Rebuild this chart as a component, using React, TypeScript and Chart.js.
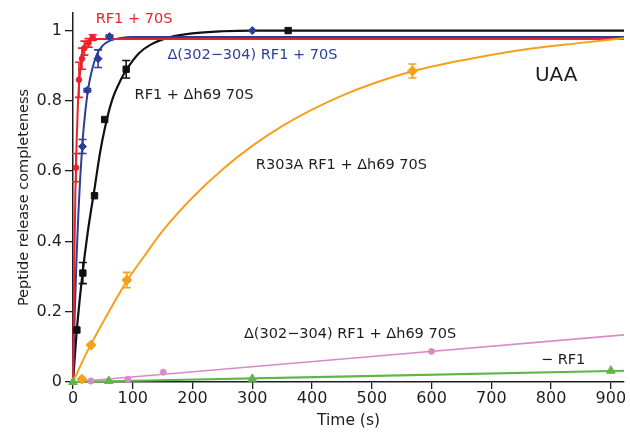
import React, { useEffect, useRef } from "react";
import { Chart, registerables } from "chart.js";

Chart.register(...registerables);

// ---- axes ----
const xTickValues = [0, 100, 200, 300, 400, 500, 600, 700, 800, 900];
const yTickValues = [0, 0.2, 0.4, 0.6, 0.8, 1];
const xMax = 922;
const yMax = 1.05;

// ---- measured points ----
const redT = [5, 10, 15, 19, 26, 33];
const redY = [0.61, 0.86, 0.92, 0.95, 0.965, 0.98];
const redErr = [0.04, 0.05, 0.03, 0.02, 0.012, 0.008];

const blueT = [16, 24, 42, 61, 300];
const blueY = [0.67, 0.83, 0.92, 0.983, 1.0];
const blueErr = [0.02, 0.005, 0.025, 0.004, 0];

const blackT = [6.5, 16.5, 36, 53, 89, 360];
const blackY = [0.148, 0.31, 0.53, 0.747, 0.89, 1.0];
const blackErr = [0, 0.03, 0, 0, 0.025, 0];

const orangeT = [15, 30, 90, 568];
const orangeY = [0.008, 0.105, 0.29, 0.885];
const orangeErr = [0, 0, 0.022, 0.02];

const pinkT = [30, 92, 151, 600];
const pinkY = [0.003, 0.008, 0.028, 0.087];

const greenT = [0, 60, 300, 900];
const greenY = [0, 0.003, 0.009, 0.032];

// ---- fitted curves ----
const redFitT = [0, 2, 4, 6, 8, 10, 13, 16, 20, 25, 30, 40, 60, 922];
const redFitY = [0, 0.32, 0.54, 0.68, 0.78, 0.845, 0.9, 0.935, 0.957, 0.968, 0.973, 0.976, 0.976, 0.976];

const blueFitT = [0, 3, 6, 9, 12, 16, 20, 25, 30, 40, 50, 60, 80, 100, 922];
const blueFitY = [0, 0.2, 0.355, 0.48, 0.58, 0.685, 0.76, 0.83, 0.875, 0.932, 0.958, 0.97, 0.979, 0.982, 0.982];

const blackFitT = [0, 6.5, 16, 25, 36, 45, 53, 65, 80, 90, 110, 130, 160, 200, 250, 300, 922];
const blackFitY = [0, 0.15, 0.31, 0.43, 0.55, 0.65, 0.72, 0.8, 0.86, 0.89, 0.935, 0.96, 0.98, 0.992, 0.998, 1.0, 1.0];

const orangeFitT = [0, 15, 30, 60, 90, 120, 150, 200, 250, 300, 350, 400, 450, 500, 570, 650, 750, 850, 922];
const orangeFitY = [0, 0.056, 0.107, 0.2, 0.287, 0.36, 0.43, 0.525, 0.605, 0.672, 0.728, 0.775, 0.815, 0.848, 0.885, 0.915, 0.945, 0.965, 0.978];

const pinkFitT = [0, 922];
const pinkFitY = [0, 0.134];

const greenFitT = [0, 922];
const greenFitY = [0, 0.032];

// ---- colours ----
const RED = "#e8232a";
const BLUE = "#2c3f97";
const BLACK = "#111111";
const ORANGE = "#f5a01c";
const PINK = "#d68bc9";
const GREEN = "#5db646";
const TEXT = "#1e1e1e";
const FONT = "DejaVu Sans";

// ---- annotations ----
const labelTexts = [
  "RF1 + 70S",
  "\u0394(302\u2212304) RF1 + 70S",
  "RF1 + \u0394h69 70S",
  "R303A RF1 + \u0394h69 70S",
  "UAA",
  "\u0394(302\u2212304) RF1 + \u0394h69 70S",
  "\u2212 RF1",
];
const labelT = [38, 158, 103, 306, 773, 286, 783];
const labelV = [1.033, 0.93, 0.816, 0.616, 0.87, 0.137, 0.063];
const labelColors = [RED, BLUE, TEXT, TEXT, TEXT, TEXT, TEXT];
const labelSizes = [14.5, 14.5, 14.5, 14.5, 20, 14.5, 14.5];

const pts = (t: number[], y: number[]) => t.map((v, i) => ({ x: v, y: y[i] }));

const errorSeries = [
  { t: redT, y: redY, e: redErr, color: RED },
  { t: blueT, y: blueY, e: blueErr, color: BLUE },
  { t: blackT, y: blackY, e: blackErr, color: BLACK },
  { t: orangeT, y: orangeY, e: orangeErr, color: ORANGE },
];

const errorBarPlugin = {
  id: "errorBars",
  afterDatasetsDraw(chart: any) {
    const { ctx, scales } = chart;
    const xs = scales.x;
    const ys = scales.y;
    ctx.save();
    errorSeries.forEach((s) => {
      ctx.strokeStyle = s.color;
      ctx.lineWidth = 1.6;
      s.t.forEach((t, i) => {
        const err = s.e[i];
        if (!err) return;
        const px = xs.getPixelForValue(t);
        const top = ys.getPixelForValue(s.y[i] + err);
        const bot = ys.getPixelForValue(s.y[i] - err);
        const cap = 4;
        ctx.beginPath();
        ctx.moveTo(px, top);
        ctx.lineTo(px, bot);
        ctx.moveTo(px - cap, top);
        ctx.lineTo(px + cap, top);
        ctx.moveTo(px - cap, bot);
        ctx.lineTo(px + cap, bot);
        ctx.stroke();
      });
    });
    ctx.restore();
  },
};

const labelPlugin = {
  id: "labels",
  afterDraw(chart: any) {
    const { ctx, scales } = chart;
    ctx.save();
    ctx.textAlign = "left";
    ctx.textBaseline = "middle";
    labelTexts.forEach((txt, i) => {
      ctx.font = `${labelSizes[i]}px "${FONT}"`;
      ctx.fillStyle = labelColors[i];
      ctx.fillText(txt, scales.x.getPixelForValue(labelT[i]), scales.y.getPixelForValue(labelV[i]));
    });
    ctx.restore();
  },
};

const curve = (t: number[], y: number[], color: string, width = 2) => ({
  type: "line" as const,
  data: pts(t, y),
  borderColor: color,
  backgroundColor: color,
  borderWidth: width,
  pointRadius: 0,
  fill: false,
  cubicInterpolationMode: "monotone" as const,
  order: 2,
  clip: false as any,
});

const marks = (t: number[], y: number[], color: string, style: string, radius: number) => ({
  type: "scatter" as const,
  data: pts(t, y),
  borderColor: color,
  backgroundColor: color,
  pointStyle: style as any,
  pointRadius: radius,
  borderWidth: style === "star" ? 2 : 1,
  showLine: false,
  order: 1,
  clip: false as any,
});

export default function App() {
  const ref = useRef<HTMLCanvasElement | null>(null);

  useEffect(() => {
    document.body.style.margin = "0";
    if (!ref.current) return;
    const chart = new Chart(ref.current, {
      type: "scatter",
      data: {
        datasets: [
          curve(greenFitT, greenFitY, GREEN, 2.2),
          curve(pinkFitT, pinkFitY, PINK, 1.6),
          curve(orangeFitT, orangeFitY, ORANGE, 2),
          curve(redFitT, redFitY, RED, 2),
          curve(blueFitT, blueFitY, BLUE, 2),
          curve(blackFitT, blackFitY, BLACK, 2.2),
          marks(greenT, greenY, GREEN, "triangle", 5),
          marks(pinkT, pinkY, PINK, "star", 3.5),
          marks(orangeT, orangeY, ORANGE, "rectRot", 5),
          marks(redT, redY, RED, "circle", 2.8),
          marks(blueT, blueY, BLUE, "rectRot", 4),
          marks(blackT, blackY, BLACK, "rect", 4.5),
        ] as any,
      },
      options: {
        animation: false,
        responsive: false,
        maintainAspectRatio: false,
        layout: { padding: { top: 13, right: 3, left: 0, bottom: 0 } },
        plugins: {
          legend: { display: false },
          tooltip: { enabled: false },
        },
        scales: {
          x: {
            type: "linear",
            min: 0,
            max: xMax,
            border: { color: TEXT, width: 1.5 },
            grid: { drawOnChartArea: false, drawTicks: true, tickLength: 7, color: TEXT, lineWidth: 1.3 },
            ticks: { color: TEXT, font: { family: FONT, size: 16 }, padding: 0, maxRotation: 0, autoSkip: false },
            title: { display: true, text: "Time (s)", color: TEXT, font: { family: FONT, size: 15.5 }, padding: { top: 0, bottom: 4 } },
            afterBuildTicks: (s: any) => {
              s.ticks = xTickValues.map((v) => ({ value: v }));
            },
            afterFit: (s: any) => {
              s.height = 52;
            },
          },
          y: {
            type: "linear",
            min: 0,
            max: yMax,
            border: { color: TEXT, width: 1.5 },
            grid: { drawOnChartArea: false, drawTicks: true, tickLength: 8, color: TEXT, lineWidth: 1.3 },
            ticks: {
              color: TEXT,
              font: { family: FONT, size: 16 },
              padding: 3,
              callback: (v: any) => String(Number(Number(v).toFixed(1))),
            },
            title: { display: true, text: "Peptide release completeness", color: TEXT, font: { family: FONT, size: 14.5 }, padding: { top: 16, bottom: 0 } },
            afterBuildTicks: (s: any) => {
              s.ticks = yTickValues.map((v) => ({ value: v }));
            },
            afterFit: (s: any) => {
              s.width = 73;
            },
          },
        },
      } as any,
      plugins: [errorBarPlugin, labelPlugin],
    });
    return () => chart.destroy();
  }, []);

  return (
    <div style={{ position: "absolute", left: 0, top: 0, width: 630, height: 434, background: "#fff" }}>
      <canvas ref={ref} width={630} height={434} style={{ width: 630, height: 434 }} />
    </div>
  );
}
